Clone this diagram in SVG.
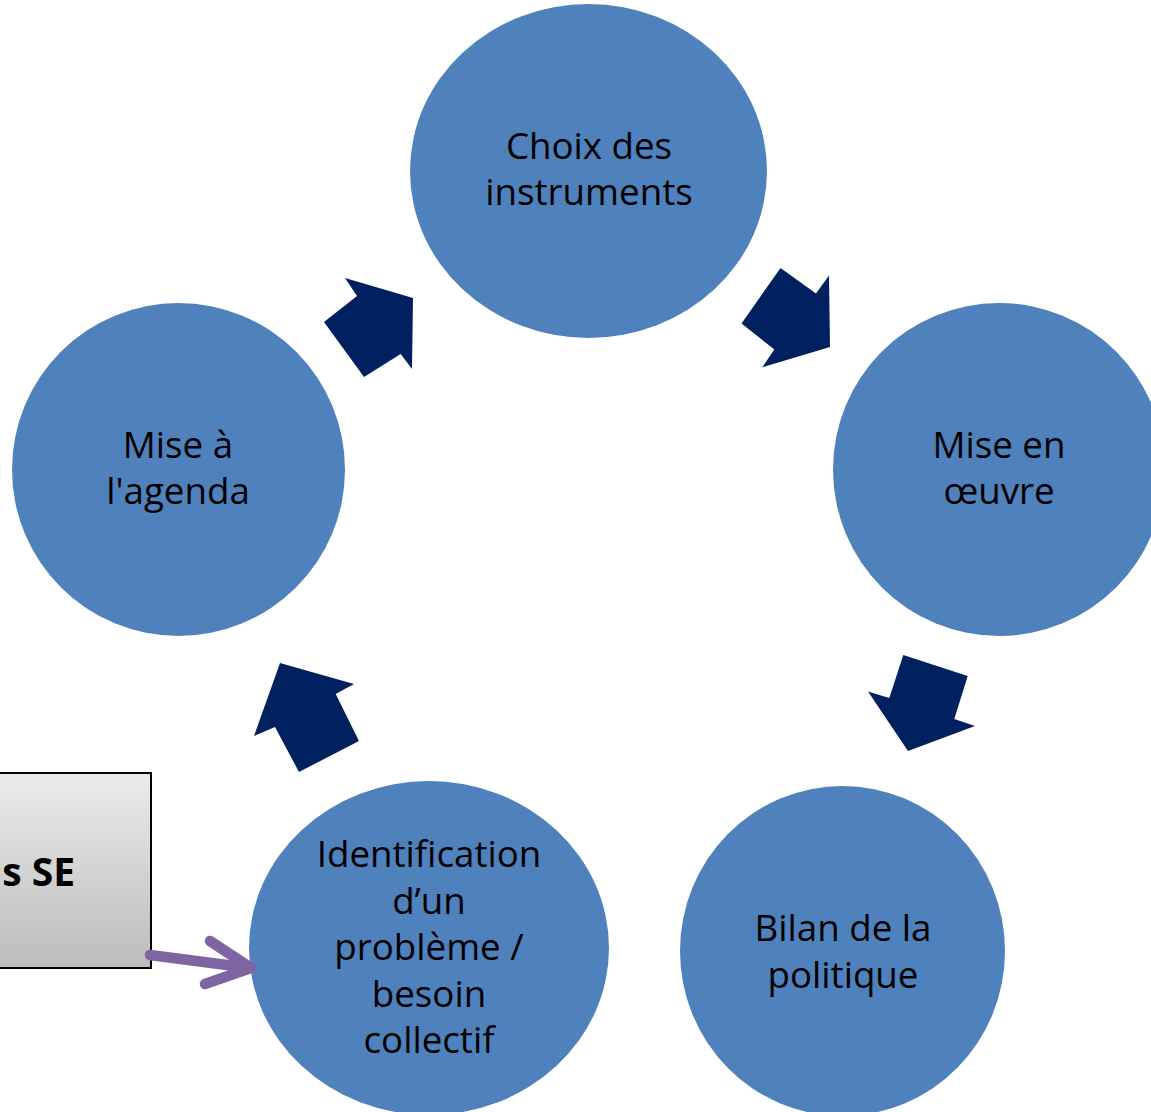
<svg xmlns="http://www.w3.org/2000/svg" width="1151" height="1112" viewBox="0 0 1151 1112">
  <defs>
    <linearGradient id="boxGrad" x1="0" y1="0" x2="0" y2="1">
      <stop offset="0" stop-color="#ebebeb"/>
      <stop offset="1" stop-color="#bcbcbc"/>
    </linearGradient>
  </defs>
  <style>
    .circle { fill: #4F81BD; }
    .lbl { font-family: "Open Sans", "Liberation Sans", sans-serif; font-size: 36.7px; fill: #000000; text-anchor: middle; }
    .bold { font-family: "Open Sans", "Liberation Sans", sans-serif; font-size: 39px; font-weight: bold; fill: #000000; text-anchor: end; }
    .bigarrow { fill: #002060; }
    .purple { fill: none; stroke: #8064A2; stroke-width: 10.5; stroke-linecap: round; stroke-linejoin: round; }
  </style>
  <rect width="1151" height="1112" fill="#ffffff"/>

  <g id="node-choix">
    <ellipse class="circle" cx="588.5" cy="171" rx="178.5" ry="167"/>
    <text class="lbl" x="589" y="159">Choix des</text>
    <text class="lbl" x="589" y="205">instruments</text>
  </g>

  <g id="node-agenda">
    <ellipse class="circle" cx="178.5" cy="469.5" rx="166.5" ry="166.5"/>
    <text class="lbl" x="178" y="458">Mise à</text>
    <text class="lbl" x="178" y="504">l'agenda</text>
  </g>

  <g id="node-oeuvre">
    <ellipse class="circle" cx="999" cy="469.5" rx="166" ry="166.5"/>
    <text class="lbl" x="999" y="458">Mise en</text>
    <text class="lbl" x="999" y="504">œuvre</text>
  </g>

  <g id="node-identification">
    <ellipse class="circle" cx="429" cy="948" rx="180" ry="167"/>
    <text class="lbl" x="429" y="867">Identification</text>
    <text class="lbl" x="429" y="914">d’un</text>
    <text class="lbl" x="429" y="960">problème /</text>
    <text class="lbl" x="429" y="1007">besoin</text>
    <text class="lbl" x="429" y="1053">collectif</text>
  </g>

  <g id="node-bilan">
    <ellipse class="circle" cx="842.5" cy="951" rx="162.5" ry="165"/>
    <text class="lbl" x="843" y="941">Bilan de la</text>
    <text class="lbl" x="843" y="988">politique</text>
  </g>

  <g id="node-se">
    <rect x="-300" y="773" width="451" height="195" fill="url(#boxGrad)" stroke="#000000" stroke-width="2"/>
    <text class="bold" x="75" y="886">s SE</text>
  </g>

  <g id="connectors">
    <polygon class="bigarrow" points="280,663 354,684 335.7,694 359,741 299,772 275,727 254,736"/>
    <polygon class="bigarrow" points="345,278 413,298 412,369 400.7,354 364,377 324,322 357,296"/>
    <polygon class="bigarrow" points="780.5,268 816,293.5 829,275.5 830,347 762.3,367.3 774.3,349.5 741.5,323.5"/>
    <polygon class="bigarrow" points="903.3,655 967.7,676 954.3,719 975,726 908,751 868,691.5 889.3,698"/>
    <g id="se-to-identification">
      <line class="purple" x1="150" y1="955" x2="250" y2="968"/>
      <polyline class="purple" points="210,941 251,968 205,984"/>
    </g>
  </g>
</svg>
